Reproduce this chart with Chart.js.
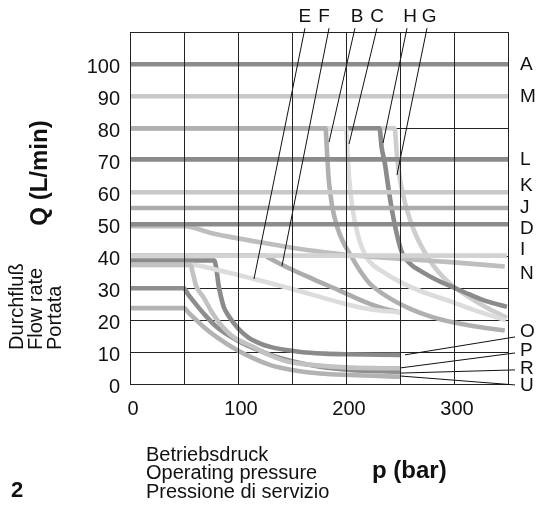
<!DOCTYPE html>
<html><head><meta charset="utf-8">
<script src="https://cdn.jsdelivr.net/npm/chart.js@4/dist/chart.umd.min.js"></script>
<style>html,body{margin:0;padding:0;background:#fff;}#wrap{position:relative;width:538px;height:506px;}</style>
</head><body><div id="wrap"><canvas id="c" width="538" height="506"></canvas></div>
<script>
// ---- tick labels ----
const xTickLabels = [0, 100, 200, 300];
const yTickLabels = [0, 10, 20, 30, 40, 50, 60, 70, 80, 90, 100];

// ---- series: [pressure bar, flow L/min] ----
const seriesA = [[0,100],[350,100]];
const seriesM = [[0,90],[350,90]];
const seriesL = [[0,70.3],[350,70.3]];
const seriesK = [[0,60],[350,60]];
const seriesJ = [[0,55.1],[350,55.1]];
const seriesD = [[0,50],[350,50]];
const seriesI = [[0,40.2],[349,40.2]];
const seriesN = [[0,49.4],[50,49.4],[75,47.3],[100,45.6],[127,44],[150,42.7],[175,41.5],[200,40.5],[225,39.8],[260,39],[300,38.1],[347,36.8]];
const seriesF = [[0,40.2],[125,40.2],[128,39.6],[141,37.3],[170,32.8],[194,29.3],[213,26.4],[230,24.2],[250,22.4]];
const seriesE = [[0,37.3],[58,37.3],[80,35.8],[115,32.9],[150,29.8],[194,25.6],[213,24],[235,22.9],[250,22.6]];
const seriesO = [[0,38.7],[78,38.7],[80,36],[82,31],[84.5,27],[87,24],[92,21],[100,17.5],[110,14.5],[120,12.8],[130,11.7],[145,10.7],[160,10],[180,9.6],[200,9.4],[250,9.2]];
const seriesP = [[0,37.3],[56,37.3],[58,35],[61,31],[64,29],[68,27.2],[75,23],[83,19.1],[95,15],[114,11.7],[130,9],[145,7.2],[170,6],[204,5.2],[250,5]];
const seriesR = [[0,30],[50,30],[53,28.5],[58,26.3],[68,22.2],[80,18],[99,13.8],[115,11.2],[130,9.2],[150,7.2],[176,5.5],[204,4.5],[250,3.9]];
const seriesU = [[0,23.8],[50,23.8],[54,22.5],[60,20.5],[68,18],[80,14.8],[99,10.7],[115,8],[130,6],[150,4.5],[176,3.4],[204,2.9],[250,2.4]];
const seriesB = [[0,80],[181,80],[182.5,72],[184,64],[187,56],[192,49],[198,44],[204,40.5],[213,35.5],[222,31.5],[240,27],[260,23.5],[280,21],[300,19.3],[325,17.8],[347,16.8]];
const seriesC = [[0,80],[200,80],[201.5,72],[203,64],[206,55],[210,48],[215,42.5],[222,38.3],[235,35],[250,32],[270,29],[296,26],[320,23],[348,20]];
const seriesH = [[0,80],[231,80],[233,74],[236,69],[239,62],[242.5,54.5],[247,47],[252,41],[260,37.5],[270,35.2],[284,32.6],[300,30.2],[315,28],[330,26],[349,24.2]];
const seriesG = [[0,80],[245,80],[247,72],[250,64],[253,59],[256,55],[263,48],[270,43],[280,37.5],[290,33.5],[300,30.5],[315,27],[330,24],[349,20.8]];

// ---- leader lines (label -> curve) ----
const leaderE = [[162,111.3],[114.8,32.9]];
const leaderF = [[184.3,111.3],[140.7,37.0]];
const leaderB = [[208.3,111.3],[184.3,75.7]];
const leaderC = [[228.7,111.3],[202.8,75.1]];
const leaderH = [[256.5,111.3],[234.3,75.4]];
const leaderG = [[275,111.3],[247.2,65.4]];
const leaderO = [[356.5,14.8],[254.6,9.2]];
const leaderP = [[356.5,9.8],[250,5.1]];
const leaderR = [[356.5,4.5],[250,3.5]];
const leaderU = [[356.5,-0.2],[250,2.6]];

// ---- labels ----
const rightLabels = ['A','M','L','K','J','D','I','N','O','P','R','U'];
const topLabels = ['E','F','B','C','H','G'];

// ---- styles / placement (kept separate from data) ----
const DARK='#8b8b8b', MED='#acacac', LIGHT='#c8c8c8', LIGHTEST='#dcdcdc';
const rightLabelPos = [100,90,70.2,62,55.2,48.6,42,34.6,16.5,10.6,5,-0.5];
const topLabelPos = [162,179.6,210.2,228.7,259.3,276.9];
const FONT = '"Liberation Sans", Arial, Helvetica, sans-serif';

const curves = [ // top-most first
  ['A',seriesA,DARK,false],['M',seriesM,LIGHT,false],['L',seriesL,DARK,false],['K',seriesK,LIGHT,false],
  ['J',seriesJ,MED,false],['D',seriesD,DARK,false],['I',seriesI,'#d2d2d2',false],
  ['N',seriesN,'#bebebe',true],['P',seriesP,'#c2c2c2',true],['E',seriesE,LIGHTEST,true],['F',seriesF,MED,true],
  ['O',seriesO,DARK,true],['R',seriesR,'#8e8e8e',true],['U',seriesU,'#b3b3b3',true],
  ['B',seriesB,'#b0b0b0',true],['C',seriesC,LIGHTEST,true],['H',seriesH,DARK,true],['G',seriesG,'#cdcdcd',true]
];
const leaders = [leaderE,leaderF,leaderB,leaderC,leaderH,leaderG,leaderO,leaderP,leaderR,leaderU];

const toXY = a => a.map(p => ({x:p[0], y:p[1]}));
const datasets = [];
leaders.forEach((l,i) => datasets.push({label:'leader'+i, data:toXY(l), borderColor:'#111', borderWidth:1,
  pointRadius:0, fill:false, tension:0, clip:false, order:-1}));
curves.forEach((c,i) => datasets.push({label:c[0], data:toXY(c[1]), borderColor:c[2], borderWidth:4.6,
  pointRadius:0, fill:false, tension:0, cubicInterpolationMode: c[3] ? 'monotone' : 'default',
  borderCapStyle:'butt', borderJoinStyle:'round', order:i}));

const textPlugin = {
  id:'texts',
  afterDatasetsDraw(chart){ chart.scales.x.drawGrid(chart.chartArea); },
  afterDraw(chart){
    const ctx = chart.ctx, xs = chart.scales.x, ys = chart.scales.y;
    ctx.save();
    ctx.fillStyle = '#111';
    ctx.font = '19px ' + FONT;
    ctx.textBaseline = 'middle';
    ctx.textAlign = 'left';
    rightLabels.forEach((t,i) => ctx.fillText(t, 520, ys.getPixelForValue(rightLabelPos[i])));
    ctx.textAlign = 'center';
    topLabels.forEach((t,i) => ctx.fillText(t, xs.getPixelForValue(topLabelPos[i]), 17));
    // bottom texts
    ctx.textAlign = 'left'; ctx.textBaseline = 'alphabetic';
    ctx.font = '20px ' + FONT;
    ctx.fillText('Betriebsdruck', 146, 461);
    ctx.fillText('Operating pressure', 146, 479);
    ctx.fillText('Pressione di servizio', 146, 498);
    ctx.font = 'bold 24px ' + FONT;
    ctx.fillText('p (bar)', 372, 478);
    ctx.font = 'bold 22px ' + FONT;
    ctx.fillText('2', 11, 497);
    // rotated left texts
    ctx.save();
    ctx.translate(47, 173); ctx.rotate(-Math.PI/2);
    ctx.textAlign = 'center'; ctx.font = 'bold 24px ' + FONT;
    ctx.fillText('Q (L/min)', 0, 0);
    ctx.restore();
    const lines = [['Durchfluß',23],['Flow rate',42],['Portata',61]];
    ctx.font = '20px ' + FONT;
    lines.forEach(l => { ctx.save(); ctx.translate(l[1], 350); ctx.rotate(-Math.PI/2);
      ctx.textAlign='left'; ctx.fillText(l[0], 0, 0); ctx.restore(); });
    ctx.restore();
  }
};

new Chart(document.getElementById('c'), {
  type:'line',
  data:{datasets},
  options:{
    responsive:false, animation:false, devicePixelRatio:1,
    parsing:true,
    layout:{padding:{left:0, right:30, top:32.3, bottom:0}},
    plugins:{legend:{display:false}, tooltip:{enabled:false}},
    scales:{
      x:{type:'linear', min:0, max:350,
        afterFit(s){ s.height = 121.7; },
        grid:{color:'#222', lineWidth:1, drawTicks:false},
        border:{color:'#222', width:1},
        ticks:{stepSize:50, autoSkip:false, maxRotation:0, padding:13, labelOffset:3, color:'#111',
          font:{family:FONT, size:20},
          callback:v => xTickLabels.includes(v) ? String(v) : ''}},
      y:{type:'linear', min:0, max:110,
        afterFit(s){ s.width = 130; },
        grid:{color:'#222', lineWidth:1, drawTicks:false},
        border:{color:'#222', width:1},
        ticks:{stepSize:10, autoSkip:false, padding:10, labelOffset:3, color:'#111',
          font:{family:FONT, size:20},
          callback:v => yTickLabels.includes(v) ? String(v) : ''}}
    }
  },
  plugins:[textPlugin]
});
</script></body></html>
